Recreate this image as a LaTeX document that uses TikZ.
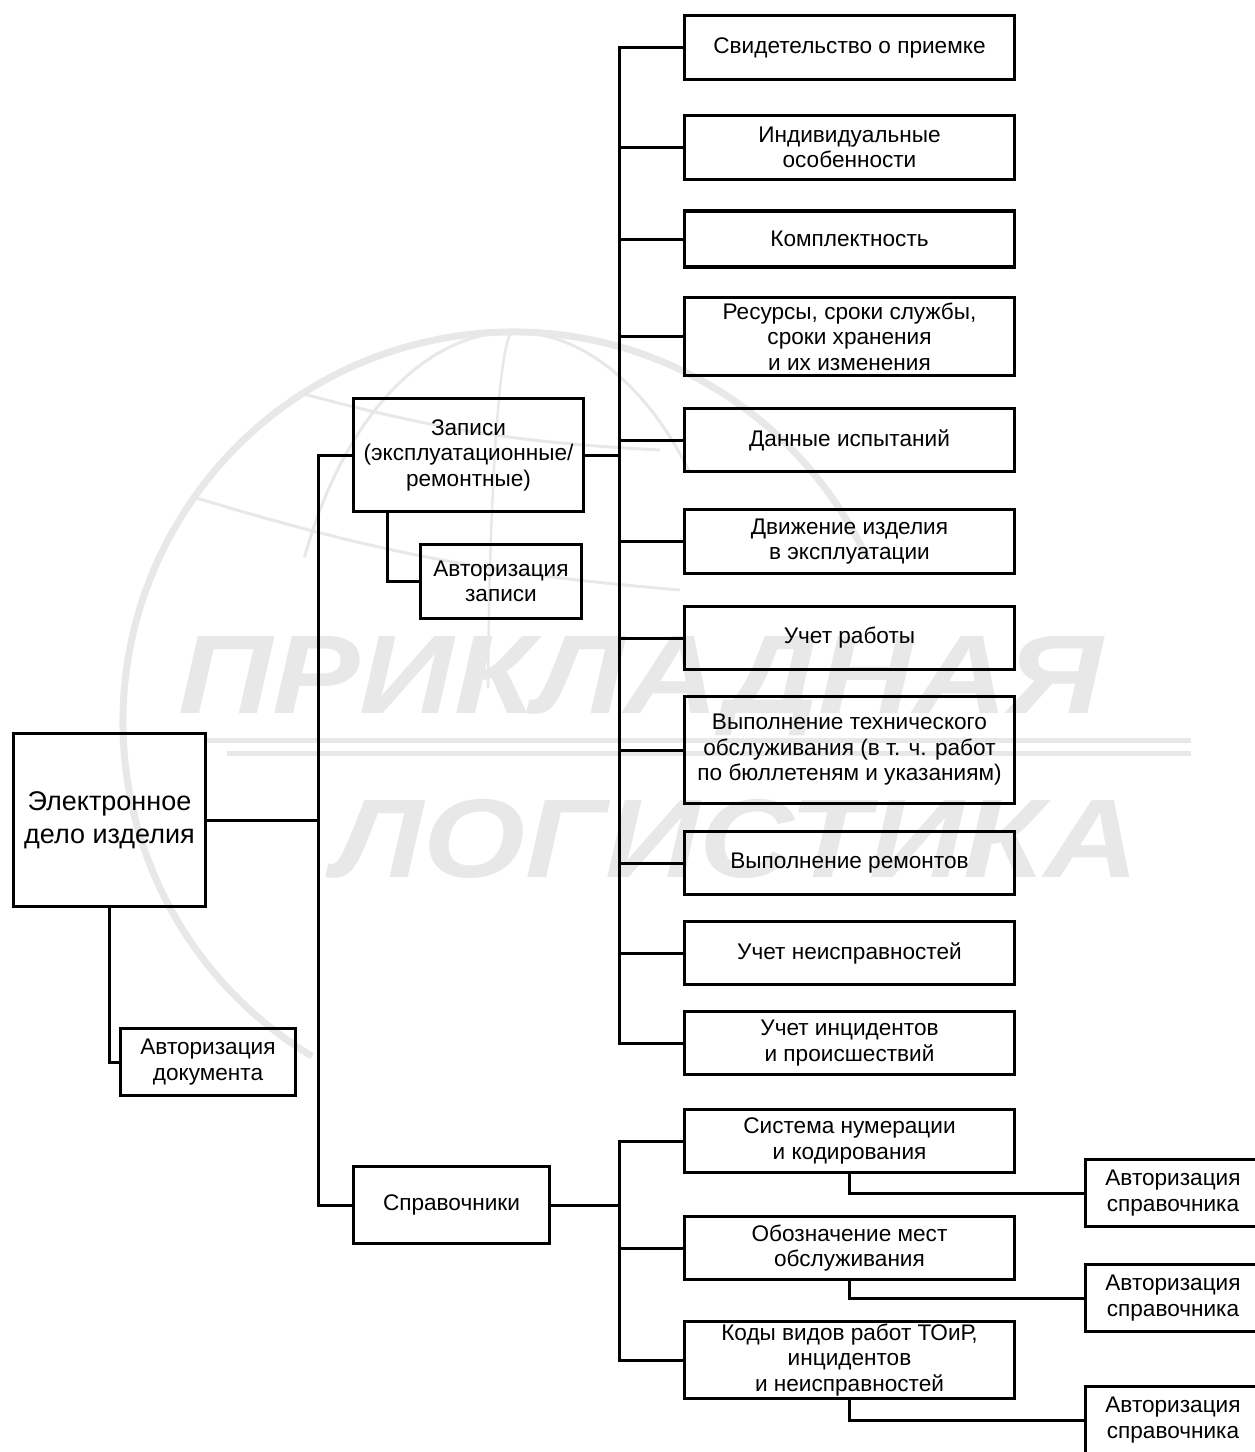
\documentclass[tikz,border=0pt]{standalone}
\usepackage{fontspec}
\setmainfont{Liberation Sans}
\usetikzlibrary{positioning}
\tikzset{
  box/.style={draw,line width=3.2pt,align=center,inner sep=2pt,
              font=\fontsize{22.6}{25.5}\selectfont},
  rbox/.style={box,minimum width=330pt},
  abox/.style={box,minimum width=175pt,minimum height=67pt},
  link/.style={line width=3pt},
  wm/.style={black!9},% watermark colour
  wmtext/.style={wm,inner sep=0pt,anchor=base west,
                 font=\fontsize{112}{112}\selectfont\bfseries\itshape},
}
\newcommand{\wide}[1]{\scalebox{1.17}[1]{#1}}
\begin{document}
\begin{tikzpicture}[x=1pt,y=-1pt]
  \useasboundingbox (0,0) rectangle (1254,1452);

  % watermark: globe and title
  \draw[wm,line width=7pt] (513,722) ++(121:390) arc[start angle=121,end angle=335,radius=390];
  \draw[wm,line width=3pt] (513,332) arc[start angle=270,end angle=205,x radius=230,y radius=390];
  \draw[wm,line width=3pt] (513,332) arc[start angle=270,end angle=320,x radius=230,y radius=390];
  \draw[wm,line width=2.5pt] (513,332) arc[start angle=270,end angle=185,x radius=25,y radius=390];
  \draw[wm,line width=3pt] (300,393) to[bend right=6] (660,450);
  \draw[wm,line width=3pt] (193,497) to[bend right=6] (680,590);
  \fill[wm] (205,738) rectangle (1191,743);
  \fill[wm] (227,751) rectangle (1191,756);
  \node[wmtext] (wm1) at (178,713) {\wide{ПРИКЛАДНАЯ}};
  \node[wmtext] (wm2) at (333,877) {\wide{ЛОГИСТИКА}};

  % left part
  \node[box,minimum width=192pt,minimum height=173pt,
        font=\fontsize{27}{33}\selectfont] (main) at (109.5,820) {Электронное\\дело изделия};
  \node[abox] (avtdoc) at (208,1062) {Авторизация\\документа};
  \node[box,minimum width=230pt,minimum height=113pt] (zap) at (468.5,455)
       {Записи\\(эксплуатационные/\\ремонтные)};
  \node[box,minimum width=161pt,minimum height=74pt] (avtzap) at (501,581.5) {Авторизация\\записи};
  \node[box,minimum width=196pt,minimum height=77pt] (spr) at (451.5,1205) {Справочники};

  % records
  \node[rbox,minimum height=64pt]  (svid)   at (849.5,47.5)  {Свидетельство о приемке};
  \node[rbox,minimum height=64pt]  (indiv)  at (849.5,147.5) {Индивидуальные\\особенности};
  \node[rbox,minimum height=56pt]  (kompl)  at (849.5,239)   {Комплектность};
  \node[rbox,minimum height=78pt]  (resurs) at (849.5,336.5) {Ресурсы, сроки службы,\\сроки хранения\\и их изменения};
  \node[rbox,minimum height=63pt]  (ispyt)  at (849.5,440)   {Данные испытаний};
  \node[rbox,minimum height=64pt]  (dvizh)  at (849.5,541.5) {Движение изделия\\в эксплуатации};
  \node[rbox,minimum height=63pt]  (rabota) at (849.5,638)   {Учет работы};
  \node[rbox,minimum height=107pt] (tobsl)  at (849.5,750)   {Выполнение технического\\обслуживания (в т. ч. работ\\по бюллетеням и указаниям)};
  \node[rbox,minimum height=63pt]  (remont) at (849.5,863)   {Выполнение ремонтов};
  \node[rbox,minimum height=63pt]  (neispr) at (849.5,953)   {Учет неисправностей};
  \node[rbox,minimum height=63pt]  (incid)  at (849.5,1043)  {Учет инцидентов\\и происшествий};

  % reference books
  \node[rbox,minimum height=63pt]  (sysnum) at (849.5,1141)  {Система нумерации\\и кодирования};
  \node[rbox,minimum height=63pt]  (mesta)  at (849.5,1248)  {Обозначение мест\\обслуживания};
  \node[rbox,minimum height=77pt]  (kody)   at (849.5,1360)  {Коды видов работ ТОиР,\\инцидентов\\и неисправностей};
  \node[abox] (sa1) at (1173,1193) {Авторизация\\справочника};
  \node[abox] (sa2) at (1173,1298) {Авторизация\\справочника};
  \node[abox] (sa3) at (1173,1420) {Авторизация\\справочника};

  % connectors
  \coordinate (b1) at (318,0);
  \coordinate (b2) at (619,0);
  \draw[link] (main.east) -- (b1 |- main.east);
  \draw[link] (zap.west) -- (b1 |- zap.west) -- (b1 |- spr.west) -- (spr.west);
  \draw[link] (main.south) |- (avtdoc.west);
  \draw[link] ([xshift=-81.5pt]zap.south) |- (avtzap.west);
  \draw[link] (zap.east) -- (b2 |- zap.east);
  \draw[link] (svid.west) -- (b2 |- svid.west) -- (b2 |- incid.west) -- (incid.west);
  \foreach \n in {indiv,kompl,resurs,ispyt,dvizh,rabota,tobsl,remont,neispr}
    \draw[link] (b2 |- \n.west) -- (\n.west);
  \draw[link] (spr.east) -- (b2 |- spr.east);
  \draw[link] (sysnum.west) -- (b2 |- sysnum.west) -- (b2 |- kody.west) -- (kody.west);
  \draw[link] (b2 |- mesta.west) -- (mesta.west);
  \foreach \a/\b in {sysnum/sa1,mesta/sa2,kody/sa3}
    \draw[link] (\a.south) |- (\b.west);
\end{tikzpicture}
\end{document}
